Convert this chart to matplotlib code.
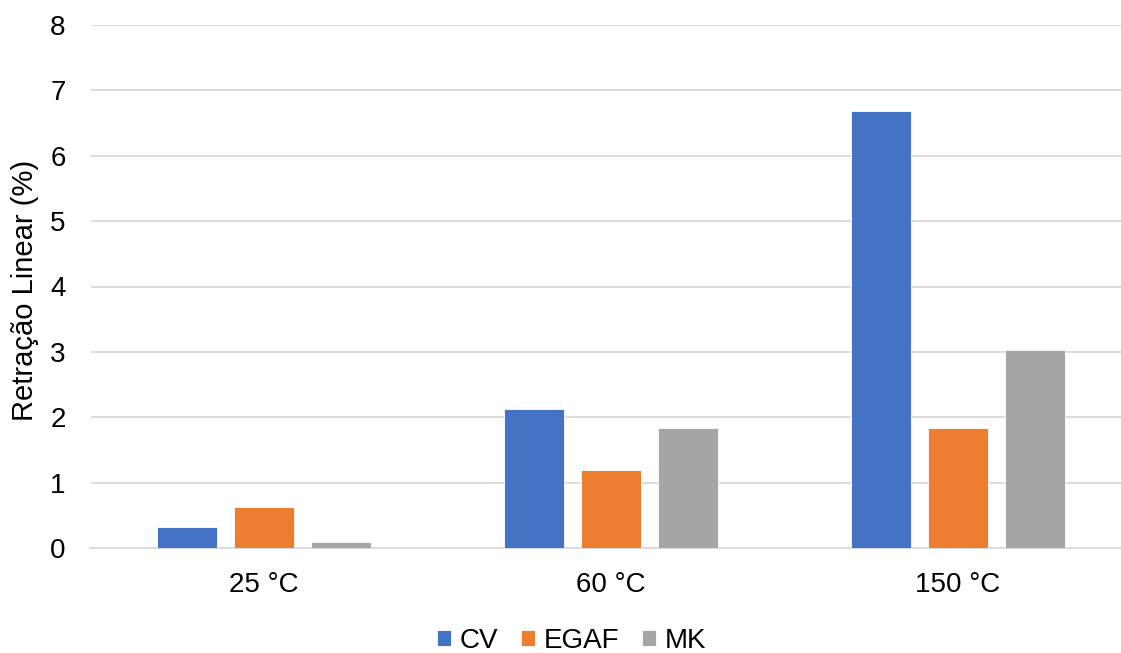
import numpy as np
import matplotlib.pyplot as plt

plt.rcParams['font.family'] = ['Liberation Sans', 'DejaVu Sans']

temperaturas = ['25 °C', '60 °C', '150 °C']
cv = [0.32, 2.12, 6.68]
egaf = [0.63, 1.20, 1.83]
mk = [0.09, 1.83, 3.03]
series = ['CV', 'EGAF', 'MK']
cores = ['#4472C4', '#ED7D31', '#A5A5A5']

fig = plt.figure(figsize=(11.21, 6.53), dpi=100)
ax = fig.add_axes([90.5 / 1121, 105 / 653, 1041 / 1121, 523 / 653])

x = np.arange(len(temperaturas))
larg = 0.174
passo = 0.222
for i, (nome, vals, cor) in enumerate(zip(series, [cv, egaf, mk], cores)):
    ax.bar(x + (i - 1) * passo, vals, width=larg, color=cor, label=nome,
           edgecolor='white', linewidth=0.6, zorder=3)

ax.set_xlim(-0.5, 2.5)
ax.set_ylim(0, 8)
ax.set_yticks(range(0, 9))
ax.set_xticks(x)
ax.set_xticklabels(temperaturas)
ax.grid(axis='y', color='#D9D9D9', linewidth=1.3, zorder=0)
for s in ['top', 'right', 'left']:
    ax.spines[s].set_visible(False)
ax.spines['bottom'].set_color('#D9D9D9')
ax.spines['bottom'].set_linewidth(1.3)
ax.tick_params(axis='y', length=0, pad=18, labelsize=20)
ax.tick_params(axis='x', length=0, pad=17.5, labelsize=20)
ax.set_ylabel('Retração Linear (%)', fontsize=21)
ax.yaxis.set_label_coords(-0.049, 0.4933)

ax.legend(loc='center', bbox_to_anchor=(0.4625, -0.178),
          ncol=3, frameon=False, fontsize=20, handlelength=0.5, handleheight=0.5,
          handletextpad=0.32, columnspacing=0.82)

fig.savefig('out.png', dpi=100)
